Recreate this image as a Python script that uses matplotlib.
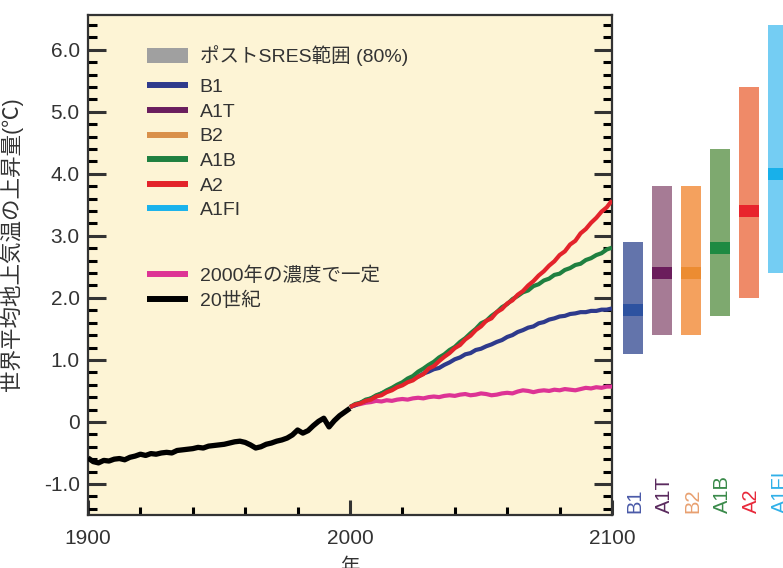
import matplotlib
matplotlib.use("Agg")
import matplotlib.pyplot as plt
from matplotlib.lines import Line2D
from matplotlib.patches import Patch
from matplotlib.ticker import MultipleLocator, FixedLocator, FixedFormatter

plt.rcParams['font.family'] = ['Liberation Sans', 'Noto Sans CJK JP', 'DejaVu Sans']

# ---------------- data ----------------
years_20c = list(range(1900, 2001, 2))
temp_20c = [-0.58, -0.64, -0.66, -0.62, -0.63, -0.60, -0.59, -0.61, -0.57, -0.55,
            -0.52, -0.54, -0.51, -0.52, -0.50, -0.49, -0.50, -0.46, -0.45, -0.44,
            -0.43, -0.41, -0.42, -0.39, -0.38, -0.37, -0.36, -0.34, -0.32, -0.31,
            -0.33, -0.37, -0.42, -0.40, -0.36, -0.34, -0.31, -0.29, -0.26, -0.21,
            -0.13, -0.18, -0.14, -0.06, 0.01, 0.06, -0.08, 0.02, 0.10, 0.16,
            0.22]

years_proj = list(range(2000, 2101, 2))
temp_commit = [0.24, 0.27, 0.29, 0.31, 0.32, 0.34, 0.33, 0.35, 0.34, 0.36,
               0.37, 0.36, 0.38, 0.39, 0.38, 0.40, 0.41, 0.40, 0.42, 0.43,
               0.42, 0.44, 0.45, 0.43, 0.44, 0.46, 0.45, 0.43, 0.44, 0.46,
               0.47, 0.46, 0.49, 0.51, 0.50, 0.48, 0.50, 0.51, 0.50, 0.52,
               0.51, 0.53, 0.52, 0.51, 0.53, 0.55, 0.54, 0.56, 0.55, 0.57,
               0.57]
temp_b1 = [0.24, 0.27, 0.31, 0.34, 0.38, 0.41, 0.46, 0.49, 0.54, 0.57,
           0.62, 0.65, 0.70, 0.73, 0.78, 0.81, 0.85, 0.87, 0.92, 0.96,
           1.01, 1.04, 1.09, 1.11, 1.16, 1.18, 1.22, 1.25, 1.29, 1.32,
           1.37, 1.40, 1.45, 1.48, 1.52, 1.54, 1.59, 1.61, 1.65, 1.67,
           1.70, 1.71, 1.74, 1.75, 1.77, 1.77, 1.79, 1.79, 1.81, 1.81,
           1.83]
temp_a1b = [0.24, 0.29, 0.31, 0.36, 0.38, 0.43, 0.46, 0.51, 0.55, 0.60,
            0.64, 0.70, 0.74, 0.81, 0.86, 0.92, 0.97, 1.04, 1.09, 1.16,
            1.21, 1.29, 1.35, 1.43, 1.50, 1.59, 1.63, 1.71, 1.77, 1.85,
            1.90, 1.98, 2.03, 2.09, 2.12, 2.19, 2.22, 2.28, 2.31, 2.37,
            2.39, 2.45, 2.48, 2.53, 2.55, 2.61, 2.64, 2.69, 2.72, 2.78,
            2.81]
temp_a2 = [0.24, 0.28, 0.30, 0.34, 0.36, 0.41, 0.43, 0.48, 0.51, 0.56,
           0.59, 0.64, 0.67, 0.73, 0.77, 0.86, 0.90, 0.98, 1.05, 1.11,
           1.19, 1.24, 1.33, 1.39, 1.48, 1.54, 1.63, 1.67, 1.77, 1.82,
           1.91, 1.96, 2.05, 2.11, 2.20, 2.27, 2.36, 2.43, 2.52, 2.59,
           2.69, 2.75, 2.86, 2.92, 3.04, 3.11, 3.21, 3.29, 3.39, 3.46,
           3.57]

scenarios = ['B1', 'A1T', 'B2', 'A1B', 'A2', 'A1FI']
range_low = [1.1, 1.4, 1.4, 1.7, 2.0, 2.4]
range_high = [2.9, 3.8, 3.8, 4.4, 5.4, 6.4]
best_est = [1.8, 2.4, 2.4, 2.8, 3.4, 4.0]

line_colors = ['#2e3a8c', '#6a1e5e', '#d9904a', '#1f8040', '#e3232b', '#1ab2ec']
range_colors = ['#6374ab', '#a67b95', '#f4a15e', '#7ea96f', '#ef8a68', '#74cdf3']
best_colors = ['#2d52a0', '#6b1d5c', '#ec8c32', '#1e8a42', '#e8242c', '#18b0ea']
label_colors = ['#4a5aa8', '#5a2a5e', '#e8a070', '#3a8a4a', '#e8283a', '#30b0e8']

legend_range_label = 'ポストSRES範囲 (80%)'
commit_label = '2000年の濃度で一定'
c20_label = '20世紀'
ylabel = '世界平均地上気温の上昇量(℃)'
xlabel = '年'
yticks = [-1.0, 0.0, 1.0, 2.0, 3.0, 4.0, 5.0, 6.0]
ytick_labels = ['-1.0', '0', '1.0', '2.0', '3.0', '4.0', '5.0', '6.0']
xticks = [1900, 2000, 2100]
xtick_labels = ['1900', '2000', '2100']

# ---------------- figure ----------------
W, H = 783, 568
fig = plt.figure(figsize=(W / 100, H / 100), dpi=100)
fig.patch.set_facecolor('white')

ax_l, ax_r, ax_t, ax_b = 88, 612, 15, 515
ax = fig.add_axes([ax_l / W, (H - ax_b) / H, (ax_r - ax_l) / W, (ax_b - ax_t) / H])
ax.set_facecolor('#fdf4d5')
ymin, ymax = -1.5, 6.56
ax.set_xlim(1900, 2100)
ax.set_ylim(ymin, ymax)

lw_proj = 3.0
ax.plot(years_proj, temp_commit, color='#dd3395', lw=lw_proj, solid_capstyle='butt', zorder=3)
ax.plot(years_proj, temp_b1, color=line_colors[0], lw=lw_proj, solid_capstyle='butt', zorder=4)
ax.plot(years_proj, temp_a1b, color=line_colors[3], lw=lw_proj, solid_capstyle='butt', zorder=5)
ax.plot(years_proj, temp_a2, color=line_colors[4], lw=lw_proj, solid_capstyle='butt', zorder=6)
ax.plot(years_20c, temp_20c, color='black', lw=3.8, solid_capstyle='butt', zorder=7)

for s in ax.spines.values():
    s.set_linewidth(1.6)
    s.set_color('#333333')

ax.yaxis.set_major_locator(FixedLocator(yticks))
ax.yaxis.set_major_formatter(FixedFormatter(ytick_labels))
ax.yaxis.set_minor_locator(MultipleLocator(0.2))
ax.xaxis.set_major_locator(FixedLocator(xticks))
ax.xaxis.set_major_formatter(FixedFormatter(xtick_labels))
ax.xaxis.set_minor_locator(MultipleLocator(20))

ax.tick_params(axis='y', which='major', direction='in', length=13, width=2.2,
               left=True, right=True, labelsize=15, pad=6, colors='#333333')
ax.tick_params(axis='y', which='minor', direction='in', length=6.8, width=2.2,
               left=True, right=True)
ax.tick_params(axis='x', which='major', direction='in', length=10.8, width=2.2,
               top=False, bottom=True, labelsize=15, pad=10, colors='#333333')
ax.tick_params(axis='x', which='minor', direction='in', length=5.8, width=2.2,
               top=False, bottom=True)

ax.set_ylabel(ylabel, fontsize=15.5, color='#333333')
ax.yaxis.set_label_coords(-0.124, 0.542)
ax.set_xlabel(xlabel, fontsize=14, color='#333333')
ax.xaxis.set_label_coords(0.5, -0.085)

# legends
leg_kw = dict(loc='upper left', frameon=False, fontsize=14, handlelength=2.1,
              handletextpad=0.6, borderpad=0, borderaxespad=0)
h0 = [Patch(facecolor='#a0a0a0', edgecolor='none')]
leg0 = ax.legend(h0, [legend_range_label], bbox_to_anchor=(0.113, 0.939),
                 handleheight=0.85, **leg_kw)
ax.add_artist(leg0)
h1 = [Line2D([0], [0], color=c, lw=4.3, solid_capstyle='butt') for c in line_colors]
leg1 = ax.legend(h1, scenarios, bbox_to_anchor=(0.113, 0.873),
                 labelspacing=0.36, **leg_kw)
ax.add_artist(leg1)
h2 = [Line2D([0], [0], color='#dd3395', lw=4.3, solid_capstyle='butt'),
      Line2D([0], [0], color='black', lw=4.3, solid_capstyle='butt')]
leg2 = ax.legend(h2, [commit_label, c20_label], bbox_to_anchor=(0.113, 0.497),
                 labelspacing=0.34, **leg_kw)
for lg in (leg0, leg1, leg2):
    for t in lg.get_texts():
        t.set_color('#333333')

# ---------------- range bars ----------------
b_left = 618.5
ax2 = fig.add_axes([b_left / W, (H - ax_b) / H, (W - b_left) / W, (ax_b - ax_t) / H])
ax2.set_ylim(ymin, ymax)
ax2.set_xlim(-0.5, (W - 633) / 29.0)
ax2.axis('off')
xs = list(range(len(scenarios)))
heights = [h - l for h, l in zip(range_high, range_low)]
ax2.bar(xs, heights, bottom=range_low, width=0.69, color=range_colors, edgecolor='none')
ax2.bar(xs, [0.2] * len(xs), bottom=[b - 0.1 for b in best_est], width=0.69,
        color=best_colors, edgecolor='none')
for x, name, c in zip(xs, scenarios, label_colors):
    ax2.text(x + 0.08, ymin + 0.03, name, rotation=90, ha='center', va='bottom',
             fontsize=14.5, color=c)

fig.savefig('out.png', dpi=100, facecolor='white')
